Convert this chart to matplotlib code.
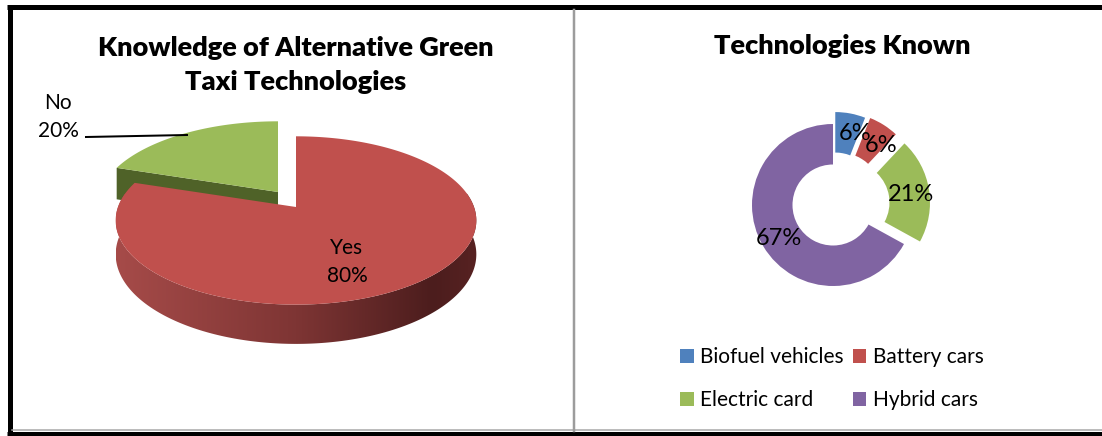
import numpy as np
import matplotlib.pyplot as plt
from matplotlib.patches import Polygon
from matplotlib.colors import LinearSegmentedColormap

plt.rcParams['font.family'] = ['Lato', 'DejaVu Sans']

# left chart: knowledge of green taxi technologies
know_labels = ['Yes', 'No']
know_values = [80, 20]
know_top = ['#c0504d', '#9bbb59']
know_side = '#4f6228'

# right chart: technologies known
tech_labels = ['Biofuel vehicles', 'Battery cars', 'Electric card', 'Hybrid cars']
tech_values = [6, 6, 21, 67]
tech_colors = ['#4f81bd', '#c0504d', '#9bbb59', '#8064a2']
tech_explode = [0.15, 0.17, 0.2, 0]

W, H = 1102, 436
px = 0.72  # one pixel in points at dpi 100
fig = plt.figure(figsize=(W / 100, H / 100), dpi=100)
canvas = fig.add_axes([0, 0, 1, 1])
canvas.axis('off')

# outer frame and divider
canvas.plot([7, W], [7.5, 7.5], color='black', lw=5 * px, solid_capstyle='butt')
canvas.plot([9.5, 9.5], [5, H], color='black', lw=5 * px, solid_capstyle='butt')
canvas.plot([7, W], [433.5, 433.5], color='black', lw=5 * px, solid_capstyle='butt')
canvas.plot([12, W], [430, 430], color='#a6a6a6', lw=1.5 * px)
canvas.plot([573.5, 573.5], [10, 431], color='#9c9c9c', lw=2.5 * px)

# ---- 3D pie (simple perspective projection of a tilted disc) ----
A, B, k, H0 = 178, 82, 0.16, 33
apex = [(296, 207), (278, 192)]


def rim(a, t):
    t = np.radians(t)
    d = 1 + k * np.sin(t)
    return a[0] + A * np.cos(t) / d, a[1] - B * np.sin(t) / d


def thick(t):
    return H0 / (1 + k * np.sin(np.radians(t)))


fracs = np.array(know_values) / sum(know_values)
starts = 90 - 360 * np.concatenate([[0], np.cumsum(fracs)[:-1]])
ends = starts - 360 * fracs

# No slice: cut face toward the viewer, then top
a = apex[1]
x1, y1 = rim(a, starts[1])
canvas.add_patch(Polygon([a, (x1, y1), (x1, y1 + thick(starts[1])), (a[0], a[1] + H0)],
                         closed=True, facecolor=know_side, edgecolor='none', zorder=1))
ts = np.linspace(starts[1], ends[1], 100)
canvas.add_patch(Polygon([a] + [rim(a, t) for t in ts], closed=True,
                         facecolor=know_top[1], edgecolor='none', zorder=1))

# Yes slice: shaded outer wall, then top
a = apex[0]
wall_t = np.linspace(-190, 10, 240)
top_edge = [rim(a, t) for t in wall_t]
bot_edge = [(x, y + thick(t)) for (x, y), t in zip(top_edge, wall_t)][::-1]
wall = Polygon(top_edge + bot_edge, closed=True, facecolor='none', edgecolor='none')
canvas.add_patch(wall)
shade = LinearSegmentedColormap.from_list(
    'shade', [(0, '#a64b49'), (0.5, '#7e3534'), (0.88, '#4c1d1d'), (1, '#572222')])
xs_all = [p[0] for p in top_edge]
ys_all = [p[1] for p in top_edge + bot_edge]
img = canvas.imshow(np.linspace(0, 1, 256)[None, :], cmap=shade, aspect='auto',
                    extent=[min(xs_all), max(xs_all), max(ys_all), min(ys_all)],
                    interpolation='bilinear', zorder=1.5)
img.set_clip_path(wall)
ts = np.linspace(starts[0], ends[0], 300)
canvas.add_patch(Polygon([a] + [rim(a, t) for t in ts], closed=True,
                         facecolor=know_top[0], edgecolor='none', zorder=2))

canvas.set_xlim(0, W)
canvas.set_ylim(H, 0)

canvas.text(347, 262, f'{know_labels[0]}\n{know_values[0]}%', ha='center', va='center',
            fontsize=15, linespacing=1.55, color='black', zorder=3)
canvas.text(58, 117, f'{know_labels[1]}\n{know_values[1]}%', ha='center', va='center',
            fontsize=15, linespacing=1.55, color='black', zorder=3)
canvas.plot([86, 187], [137, 135], color='black', lw=2 * px, zorder=3)

canvas.text(296, 65, 'Knowledge of Alternative Green\nTaxi Technologies', ha='center',
            va='center', fontsize=19.5, fontweight='heavy', linespacing=1.5)
canvas.text(842, 46, 'Technologies Known', ha='center', va='center',
            fontsize=19.5, fontweight='heavy')

# ---- doughnut ----
cx, cy, R = 833, 205, 81
half = 115
ax = fig.add_axes([(cx - half) / W, (H - cy - half) / H, 2 * half / W, 2 * half / H])
wedges, _, autotexts = ax.pie(tech_values, colors=tech_colors, explode=tech_explode,
                              startangle=90, counterclock=False, radius=1,
                              wedgeprops=dict(width=0.5, linewidth=0),
                              autopct='%1.0f%%', pctdistance=0.77,
                              textprops=dict(fontsize=17, color='black'))
for t in autotexts:
    t.set_va('center_baseline')
# the two narrow slices have their labels pushed a little clockwise
for t, (dx, dy) in zip(autotexts[:2], [(0.1, 0.0), (0.09, -0.04)]):
    x, y = t.get_position()
    t.set_position((x + dx, y + dy))
ax.set_xlim(-half / R, half / R)
ax.set_ylim(-half / R, half / R)
ax.set_aspect('equal')
ax.axis('off')

order = [0, 2, 1, 3]
fig.legend([wedges[i] for i in order], [tech_labels[i] for i in order], ncol=2,
           loc='upper left', bbox_to_anchor=(680 / W, 1 - 347 / H), frameon=False,
           fontsize=15, handlelength=0.65, handleheight=0.65, handletextpad=0.3,
           columnspacing=0.45, labelspacing=1.1, borderpad=0, borderaxespad=0)

fig.savefig('out.png', dpi=100)
